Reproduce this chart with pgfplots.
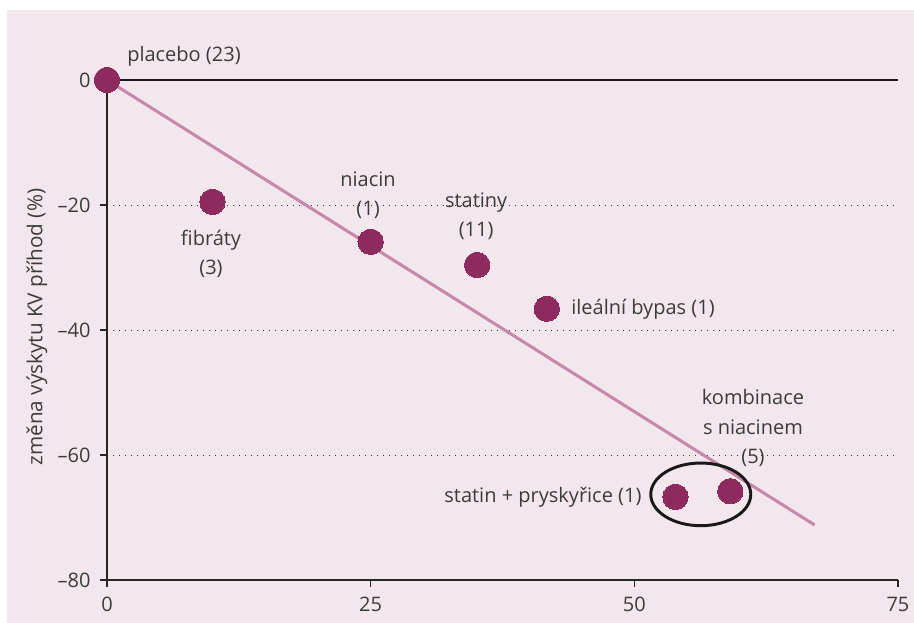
\documentclass[border=0pt]{standalone}
\usepackage{pgfplots}
\pgfplotsset{compat=1.18}
\usepackage{fontspec}
\setmainfont{Open Sans}
\definecolor{bg}{RGB}{243,231,238}
\definecolor{dotc}{RGB}{142,43,94}
\definecolor{linec}{RGB}{199,137,170}
\definecolor{txt}{RGB}{60,60,60}
\tikzset{lab/.style={font=\fontsize{15pt}{22pt}\selectfont, text=txt, inner sep=0pt}}
\begin{document}
\begin{tikzpicture}
\useasboundingbox (0,0) rectangle (685.5pt,467.25pt);
\fill[bg] (5.25pt,0pt) rectangle (685.5pt,459.75pt);
\begin{axis}[
  at={(80.25pt,32.25pt)}, anchor=south west,
  scale only axis, width=593.25pt, height=375pt,
  xmin=0, xmax=75, ymin=-80, ymax=0,
  axis lines*=left,
  axis line style={black!85, line width=0.9pt},
  xtick={0,25,50,75}, xticklabels={0,25,50,75},
  ytick={-80,-60,-40,-20,0}, yticklabels={–80,–60,–40,–20,0},
  tick align=outside, major tick length=5.3pt,
  tick style={black!85, line width=0.8pt},
  tick label style={font=\fontsize{15pt}{17pt}\selectfont, text=txt},
  yticklabel style={xshift=-3.5pt},
  xticklabel style={yshift=-4pt},
  ymajorgrids, grid style={black!80, line width=0.7pt, dash pattern=on 0.7pt off 3.8pt},
  ylabel={změna výskytu KV příhod (\%)},
  ylabel style={at={(axis description cs:-0.0885,0.506)}, anchor=center, rotate=0, font=\fontsize{15.5pt}{17pt}\selectfont, text=txt},
  clip=false,
]
\addplot[black!90, line width=0.9pt, forget plot] coordinates {(0,0) (75,0)};
\addplot[linec, line width=2.3pt, forget plot] coordinates {(0,0) (67.1,-71.2)};
\addplot[dotc, only marks, mark=*, mark size=9.5pt, mark options={fill=dotc, draw=dotc, line width=0pt}] coordinates {
(0,0) (10,-19.5) (25,-25.9) (35.1,-29.6) (41.7,-36.6) (53.9,-66.7) (59.1,-65.8)};
\draw[black!90, line width=2.2pt] (axis cs:56.3,-66.3) ellipse [x radius=37.5pt, y radius=23.5pt];
\node[lab] at (axis cs:7.3,3.84) {placebo (23)};
\node[lab, align=center] at (axis cs:24.75,-18.4) {niacin\\(1)};
\node[lab, align=center] at (axis cs:9.86,-27.84) {fibráty\\(3)};
\node[lab, align=center] at (axis cs:35.0,-21.76) {statiny\\(11)};
\node[lab, anchor=west] at (axis cs:44.0,-36.64) {ileální bypas (1)};
\node[lab, align=center] at (axis cs:61.25,-55.7) {kombinace\\s niacinem\\(5)};
\node[lab, anchor=east] at (axis cs:50.7,-66.7) {statin + pryskyřice (1)};
\end{axis}
\end{tikzpicture}
\end{document}
